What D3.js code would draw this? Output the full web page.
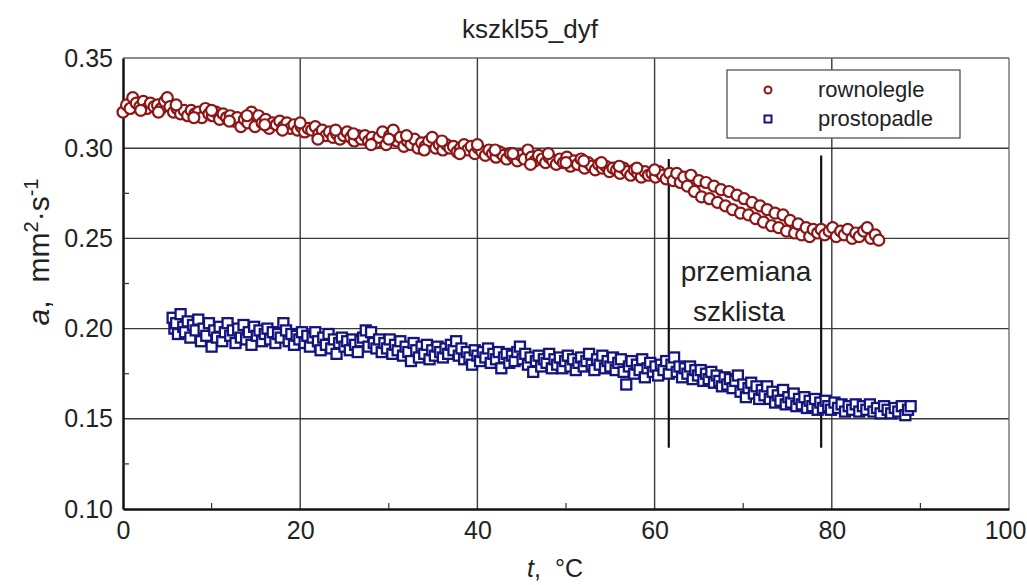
<!DOCTYPE html>
<html><head><meta charset="utf-8">
<script src="https://cdn.jsdelivr.net/npm/d3@7"></script>
<style>
html,body{margin:0;padding:0;background:#fff;}
text{font-family:"Liberation Sans",Arial,sans-serif;}
</style></head>
<body>
<svg id="chart" width="1027" height="585"></svg>
<script>
// ---------- data ----------
const title = "kszkl55_dyf";
const seriesNames = ["rownolegle", "prostopadle"];
const xTicks = [0, 20, 40, 60, 80, 100];
const yTicks = [0.10, 0.15, 0.20, 0.25, 0.30, 0.35];
const xMinorTicks = [10, 30, 50, 70, 90];
const yMinorTicks = [0.125, 0.175, 0.225, 0.275, 0.325];
const transitionT = [61.6, 78.8];
const transitionLabel = ["przemiana", "szklista"];

const rowT = [0.0,0.4,0.8,1.1,1.5,1.9,2.3,2.7,3.1,3.5,3.9,4.3,4.7,5.0,5.3,5.7,6.1,6.5,6.9,7.3,7.7,8.1,8.5,8.9,9.3,9.7,10.1,10.5,10.9,11.3,11.7,12.1,12.5,12.9,13.3,13.7,14.1,14.5,14.9,15.3,15.7,16.1,16.5,16.9,17.3,17.7,18.1,18.5,18.9,19.3,19.7,20.1,20.5,20.9,21.3,21.7,22.1,22.5,22.9,23.3,23.7,24.1,24.5,24.9,25.3,25.7,26.1,26.5,26.9,27.3,27.7,28.1,28.5,28.9,29.3,29.7,30.1,30.5,30.9,31.3,31.7,32.1,32.5,32.9,33.3,33.7,34.1,34.5,34.9,35.3,35.7,36.1,36.5,36.9,37.3,37.7,38.1,38.5,38.9,39.3,39.7,40.1,40.5,40.9,41.3,41.7,42.1,42.5,42.9,43.3,43.7,44.1,44.5,44.9,45.3,45.7,46.1,46.5,46.9,47.3,47.7,48.1,48.5,48.9,49.3,49.7,50.1,50.5,50.9,51.3,51.7,52.1,52.5,52.9,53.3,53.7,54.1,54.5,54.9,55.3,55.7,56.1,56.5,56.9,57.3,57.7,58.1,58.5,58.9,59.3,59.7,60.1,60.5,60.9,61.3,61.7,62.1,62.5,62.9,63.3,63.7,64.1,64.5,65.0,65.3,65.8,66.2,66.7,67.1,67.5,68.0,68.4,68.8,69.3,69.7,70.1,70.6,71.0,71.4,71.9,72.3,72.7,73.2,73.6,74.0,74.5,74.9,75.3,75.8,76.2,76.6,77.1,77.5,77.9,78.4,78.8,79.2,79.7,80.1,80.5,81.0,81.4,81.8,82.3,82.7,83.1,83.6,84.0,84.4,84.9,85.3,
  2.0,4.0,6.0,8.0,10.0,12.0,14.0,16.0,18.0,20.0,22.0,24.0,26.0,28.0,30.0,32.0,34.0,36.0,38.0,40.0,42.0,44.0,46.0,48.0,50.0,52.0,54.0,56.0,58.0,60.0];
const rowA = [0.320,0.324,0.322,0.328,0.325,0.323,0.326,0.322,0.325,0.323,0.324,0.322,0.326,0.328,0.323,0.320,0.322,0.319,0.321,0.318,0.321,0.319,0.320,0.317,0.322,0.319,0.318,0.320,0.316,0.319,0.317,0.318,0.315,0.317,0.312,0.316,0.314,0.320,0.312,0.318,0.314,0.316,0.311,0.314,0.313,0.315,0.312,0.314,0.311,0.313,0.310,0.312,0.309,0.311,0.310,0.312,0.308,0.310,0.307,0.309,0.306,0.308,0.305,0.307,0.309,0.306,0.304,0.307,0.305,0.307,0.304,0.306,0.303,0.306,0.309,0.302,0.307,0.310,0.304,0.306,0.301,0.304,0.302,0.305,0.300,0.303,0.301,0.304,0.306,0.300,0.302,0.299,0.302,0.300,0.301,0.298,0.300,0.302,0.299,0.301,0.297,0.300,0.298,0.296,0.299,0.297,0.295,0.298,0.296,0.294,0.297,0.295,0.293,0.296,0.294,0.299,0.295,0.293,0.296,0.294,0.292,0.295,0.293,0.291,0.294,0.292,0.295,0.290,0.293,0.291,0.294,0.289,0.292,0.290,0.288,0.291,0.289,0.290,0.287,0.289,0.288,0.286,0.289,0.287,0.285,0.288,0.286,0.284,0.287,0.285,0.286,0.284,0.287,0.285,0.283,0.286,0.282,0.286,0.281,0.284,0.279,0.285,0.276,0.282,0.273,0.281,0.272,0.279,0.270,0.277,0.268,0.276,0.266,0.274,0.264,0.272,0.263,0.270,0.261,0.268,0.259,0.266,0.257,0.264,0.256,0.263,0.254,0.260,0.253,0.258,0.252,0.256,0.251,0.255,0.253,0.255,0.252,0.254,0.256,0.251,0.254,0.252,0.255,0.250,0.253,0.251,0.254,0.256,0.250,0.252,0.249,
  0.321,0.320,0.324,0.317,0.321,0.315,0.318,0.313,0.310,0.314,0.305,0.310,0.308,0.302,0.305,0.307,0.299,0.304,0.297,0.302,0.299,0.297,0.291,0.297,0.292,0.293,0.292,0.290,0.289,0.288];

const proT = [5.6,5.8,6.0,6.2,6.5,6.8,7.0,7.3,7.6,7.9,8.2,8.5,8.8,9.1,9.4,9.7,10.0,10.3,10.6,10.9,11.2,11.5,11.8,12.1,12.4,12.7,13.0,13.3,13.6,13.9,14.2,14.5,14.8,15.1,15.4,15.7,16.0,16.3,16.6,16.9,17.2,17.5,17.8,18.1,18.4,18.7,19.0,19.3,19.6,19.9,20.2,20.5,20.8,21.1,21.4,21.7,22.0,22.3,22.6,22.9,23.2,23.5,23.8,24.1,24.4,24.7,25.0,25.3,25.6,25.9,26.2,26.5,26.8,27.1,27.4,27.7,28.0,28.3,28.6,28.9,29.2,29.5,29.8,30.1,30.4,30.7,31.0,31.3,31.6,31.9,32.2,32.5,32.8,33.1,33.4,33.7,34.0,34.3,34.6,34.9,35.2,35.5,35.8,36.1,36.4,36.7,37.0,37.3,37.6,37.9,38.2,38.5,38.8,39.1,39.4,39.7,40.0,40.3,40.6,40.9,41.2,41.5,41.8,42.1,42.4,42.7,43.0,43.3,43.6,43.9,44.2,44.5,44.8,45.1,45.4,45.7,46.0,46.3,46.6,46.9,47.2,47.5,47.8,48.1,48.4,48.7,49.0,49.3,49.6,49.9,50.2,50.5,50.8,51.1,51.4,51.7,52.0,52.3,52.6,52.9,53.2,53.5,53.8,54.1,54.4,54.7,55.0,55.3,55.6,55.9,56.2,56.5,56.8,57.1,57.4,57.7,58.0,58.3,58.6,58.9,59.2,59.5,59.8,60.1,60.4,60.7,61.0,61.3,61.6,61.9,62.2,62.5,62.8,63.1,63.4,63.7,64.0,64.3,64.6,64.9,65.2,65.5,65.8,66.1,66.4,66.7,67.0,67.3,67.6,67.9,68.2,68.5,68.8,69.1,69.4,69.7,70.0,70.3,70.6,70.9,71.2,71.5,71.8,72.1,72.4,72.7,73.0,73.3,73.6,73.9,74.2,74.5,74.8,75.1,75.4,75.7,76.0,76.3,76.6,76.9,77.2,77.5,77.8,78.1,78.4,78.7,79.0,79.3,79.6,79.9,80.3,80.7,81.1,81.5,81.9,82.3,82.7,83.1,83.5,83.9,84.3,84.7,85.1,85.5,85.9,86.3,86.7,87.1,87.5,87.9,88.3,88.6,88.9];
const proA = [0.206,0.200,0.203,0.197,0.208,0.201,0.198,0.204,0.195,0.202,0.199,0.205,0.193,0.200,0.196,0.203,0.190,0.199,0.195,0.201,0.193,0.198,0.203,0.196,0.199,0.192,0.200,0.195,0.202,0.194,0.198,0.191,0.201,0.196,0.199,0.193,0.197,0.200,0.194,0.198,0.192,0.197,0.195,0.203,0.199,0.193,0.197,0.191,0.196,0.194,0.198,0.192,0.196,0.190,0.195,0.198,0.193,0.188,0.195,0.191,0.197,0.189,0.194,0.186,0.192,0.195,0.190,0.193,0.188,0.194,0.191,0.187,0.193,0.195,0.199,0.190,0.198,0.192,0.189,0.194,0.187,0.192,0.189,0.194,0.186,0.191,0.188,0.193,0.185,0.190,0.187,0.182,0.192,0.188,0.184,0.190,0.186,0.191,0.183,0.188,0.185,0.190,0.187,0.184,0.189,0.186,0.191,0.188,0.193,0.185,0.189,0.183,0.187,0.184,0.180,0.188,0.185,0.182,0.187,0.184,0.189,0.181,0.186,0.183,0.187,0.178,0.184,0.186,0.181,0.185,0.182,0.187,0.190,0.183,0.186,0.180,0.184,0.176,0.182,0.185,0.179,0.183,0.181,0.186,0.178,0.183,0.180,0.184,0.178,0.182,0.185,0.179,0.183,0.177,0.181,0.184,0.179,0.182,0.186,0.180,0.177,0.183,0.180,0.185,0.178,0.182,0.179,0.184,0.177,0.181,0.183,0.176,0.169,0.179,0.182,0.175,0.180,0.177,0.183,0.173,0.178,0.181,0.176,0.179,0.174,0.180,0.177,0.182,0.175,0.180,0.184,0.176,0.179,0.173,0.178,0.175,0.179,0.172,0.177,0.174,0.177,0.171,0.175,0.172,0.176,0.170,0.174,0.171,0.168,0.173,0.169,0.172,0.167,0.171,0.174,0.165,0.169,0.162,0.167,0.170,0.164,0.168,0.161,0.166,0.163,0.168,0.161,0.165,0.159,0.163,0.160,0.166,0.158,0.162,0.159,0.164,0.157,0.161,0.158,0.162,0.156,0.160,0.157,0.161,0.155,0.159,0.156,0.160,0.157,0.155,0.159,0.156,0.158,0.154,0.157,0.155,0.158,0.154,0.157,0.155,0.158,0.154,0.156,0.153,0.157,0.155,0.153,0.156,0.154,0.157,0.152,0.155,0.157];

// ---------- layout ----------
const svg = d3.select("#chart");
const L = 123, R = 1009, T = 58, B = 509;
const x = d3.scaleLinear().domain([0, 100]).range([L, R]);
const y = d3.scaleLinear().domain([0.10, 0.35]).range([B, T]);
const redC = "#8c1515", blueC = "#14147f";

// grid
svg.append("g").selectAll("line").data(xTicks.slice(1, -1)).join("line")
  .attr("x1", d => x(d)).attr("x2", d => x(d)).attr("y1", T).attr("y2", B)
  .attr("stroke", "#3a3a3a").attr("stroke-width", 1.4);
svg.append("g").selectAll("line").data(yTicks.slice(1, -1)).join("line")
  .attr("y1", d => y(d)).attr("y2", d => y(d)).attr("x1", L).attr("x2", R)
  .attr("stroke", "#3a3a3a").attr("stroke-width", 1.4);

// frame top/right
svg.append("line").attr("x1", L).attr("x2", R).attr("y1", T).attr("y2", T).attr("stroke", "#666").attr("stroke-width", 1.3);
svg.append("line").attr("x1", R).attr("x2", R).attr("y1", T).attr("y2", B).attr("stroke", "#666").attr("stroke-width", 1.3);

// axes
const fmtY = d3.format(".2f");
const gx = svg.append("g").attr("transform", `translate(0,${B})`)
  .call(d3.axisBottom(x).tickValues(xTicks).tickFormat(d3.format("d")).tickSize(0).tickPadding(12));
const gy = svg.append("g").attr("transform", `translate(${L},0)`)
  .call(d3.axisLeft(y).tickValues(yTicks).tickFormat(fmtY).tickSize(0).tickPadding(10));
[gx, gy].forEach(g => {
  g.select(".domain").attr("stroke", "#111").attr("stroke-width", 2.5);
  g.selectAll("text").attr("font-size", 25).attr("fill", "#222").attr("font-family", "'Liberation Sans',Arial,sans-serif");
});
gx.selectAll(".tick text").filter(d => d === 100).attr("dx", -4);
// minor ticks (inward)
svg.append("g").selectAll("line").data(xMinorTicks).join("line")
  .attr("x1", d => x(d)).attr("x2", d => x(d)).attr("y1", B).attr("y2", B - 6)
  .attr("stroke", "#333").attr("stroke-width", 1.2);
svg.append("g").selectAll("line").data(yMinorTicks).join("line")
  .attr("y1", d => y(d)).attr("y2", d => y(d)).attr("x1", L).attr("x2", L + 6)
  .attr("stroke", "#333").attr("stroke-width", 1.2);

// transition lines
const tl = svg.append("g");
tl.append("line").attr("x1", x(transitionT[0])).attr("x2", x(transitionT[0]))
  .attr("y1", y(0.294)).attr("y2", y(0.134)).attr("stroke", "#111").attr("stroke-width", 2.2);
tl.append("line").attr("x1", x(transitionT[1])).attr("x2", x(transitionT[1]))
  .attr("y1", y(0.296)).attr("y2", y(0.134)).attr("stroke", "#111").attr("stroke-width", 2.2);

// data
const red = rowT.map((t, i) => ({t, a: rowA[i]}));
const blue = proT.map((t, i) => ({t, a: proA[i]}));
svg.append("g").selectAll("rect").data(blue).join("rect")
  .attr("x", d => x(d.t) - 5).attr("y", d => y(d.a) - 5).attr("width", 10).attr("height", 10)
  .attr("fill", "#fff").attr("stroke", blueC).attr("stroke-width", 2.3);
svg.append("g").selectAll("circle").data(red).join("circle")
  .attr("cx", d => x(d.t)).attr("cy", d => y(d.a)).attr("r", 5.5)
  .attr("fill", "#fff").attr("stroke", redC).attr("stroke-width", 2.2);

// annotation
const ann = svg.append("g").attr("font-size", 28).attr("fill", "#222").attr("text-anchor", "middle");
ann.append("text").attr("x", 746).attr("y", 281).text(transitionLabel[0]);
ann.append("text").attr("x", 739).attr("y", 321).text(transitionLabel[1]);

// title
svg.append("text").attr("x", 530).attr("y", 38).attr("text-anchor", "middle")
  .attr("font-size", 26).attr("fill", "#222").text(title);

// x label
const xl = svg.append("text").attr("x", 527).attr("y", 577)
  .attr("font-size", 25).attr("fill", "#222");
xl.append("tspan").attr("font-style", "italic").text("t");
xl.append("tspan").text(",");
xl.append("tspan").attr("dx", 14).text("°C");

// y label
const yl = svg.append("text").attr("transform", "translate(49,252) rotate(-90)")
  .attr("text-anchor", "middle").attr("font-size", 30).attr("fill", "#222");
yl.append("tspan").attr("font-style", "italic").text("a");
yl.append("tspan").text(",");
yl.append("tspan").attr("dx", 18).text("mm");
yl.append("tspan").attr("baseline-shift", "super").attr("font-size", 20).text("2");
yl.append("tspan").text("·s");
yl.append("tspan").attr("baseline-shift", "super").attr("font-size", 20).text("-1");

// legend
const lg = svg.append("g");
lg.append("rect").attr("x", 727).attr("y", 70).attr("width", 233).attr("height", 68)
  .attr("fill", "#fff").attr("stroke", "#444").attr("stroke-width", 1.2);
lg.append("circle").attr("cx", 768).attr("cy", 90).attr("r", 3.5)
  .attr("fill", "#fff").attr("stroke", redC).attr("stroke-width", 2);
lg.append("rect").attr("x", 764.5).attr("y", 115.5).attr("width", 7).attr("height", 7)
  .attr("fill", "#fff").attr("stroke", blueC).attr("stroke-width", 2);
lg.append("text").attr("x", 818).attr("y", 97).attr("font-size", 22).attr("fill", "#222").text(seriesNames[0]);
lg.append("text").attr("x", 818).attr("y", 126).attr("font-size", 22).attr("fill", "#222").text(seriesNames[1]);
</script>
</body></html>
